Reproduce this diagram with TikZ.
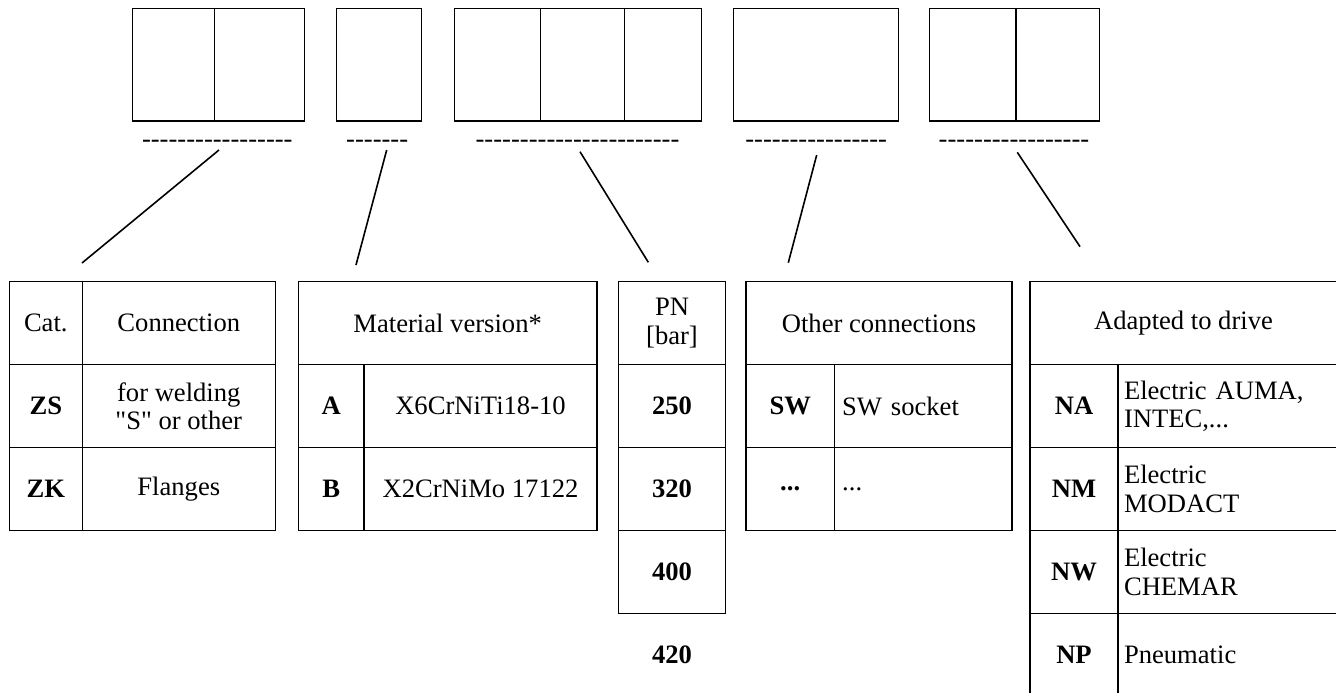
\documentclass[tikz,border=0pt]{standalone}
\usepackage{fontspec}
\newfontfamily\plainserif{Liberation Serif}
\usetikzlibrary{positioning}

\newcommand{\dashrow}[1]{\foreach \k in {1,...,#1}{-\kern0pt}}

\begin{document}
\begin{tikzpicture}[
    x=1pt, y=-1pt,
    every node/.style={font=\plainserif\fontsize{26.6}{28.3}\selectfont},
    slot/.style={draw, line width=1.3pt, minimum height=112.7pt, inner sep=0pt},
    cell/.style={draw, line width=1.3pt, minimum height=83pt, inner sep=0pt, align=center},
    key/.style={cell, font=\plainserif\fontsize{26.6}{28.3}\selectfont\bfseries},
    desc/.style={cell, align=left, text width=#1},
    hyph/.style={inner sep=0pt},
    link/.style={line width=1.6pt},
]
    \useasboundingbox (0,0) rectangle (1336,693);

    % code boxes
    \node[slot, minimum width=82pt] (b1a) at (173.3,64.65) {};
    \node[slot, minimum width=90pt] (b1b) at (259.3,64.65) {};
    \node[slot, minimum width=85.4pt] (b2) at (379,64.65) {};
    \node[slot, minimum width=86pt] (b3a) at (497.3,64.65) {};
    \node[slot, minimum width=84pt] (b3b) at (582.3,64.65) {};
    \node[slot, minimum width=77.4pt] (b3c) at (663,64.65) {};
    \node[slot, minimum width=165.4pt] (b4) at (816,64.65) {};
    \node[slot, minimum width=86.7pt] (b5a) at (972.65,64.65) {};
    \node[slot, minimum width=83.3pt] (b5b) at (1057.65,64.65) {};

    % dashes under the boxes
    \node[hyph] (d1) at (217.3,144.3) {\dashrow{17}};
    \node[hyph] (d2) at (377.2,144.3) {\dashrow{7}};
    \node[hyph] (d3) at (577.5,144.3) {\dashrow{23}};
    \node[hyph] (d4) at (816.2,144.3) {\dashrow{16}};
    \node[hyph] (d5) at (1014,144.3) {\dashrow{17}};

    % connection
    \node[cell, minimum width=73pt] (cat) at (45.8,323) {Cat.};
    \node[cell, minimum width=193pt] (conn) at (178.8,323) {Connection};
    \node[key, minimum width=73pt] (zs) at (45.8,406) {ZS};
    \node[cell, minimum width=193pt] (zsd) at (178.8,406) {for welding\\"S" or other};
    \node[key, minimum width=73pt] (zk) at (45.8,489) {ZK};
    \node[cell, minimum width=193pt] (zkd) at (178.8,489) {Flanges};

    % material
    \node[cell, minimum width=298.5pt] (mat) at (447.65,323) {Material version*};
    \node[key, minimum width=65.7pt] (ma) at (331.25,406) {A};
    \node[cell, minimum width=232.8pt] (mad) at (480.5,406) {X6CrNiTi18-10};
    \node[key, minimum width=65.7pt] (mb) at (331.25,489) {B};
    \node[cell, minimum width=232.8pt] (mbd) at (480.5,489) {X2CrNiMo 17122};

    % pressure
    \node[cell, minimum width=106.5pt] (pn) at (672,323) {PN\\{[bar]}};
    \node[key, minimum width=106.5pt] (p250) at (672,406) {250};
    \node[key, minimum width=106.5pt] (p320) at (672,489) {320};
    \node[key, minimum width=106.5pt] (p400) at (672,572) {400};
    \node[key, draw=none, minimum width=106.5pt] (p420) at (672,655) {420};

    % other connections
    \node[cell, minimum width=266pt] (oth) at (879,323) {Other connections};
    \node[key, minimum width=88.4pt] (sw) at (790.2,406) {SW};
    \node[desc=162pt, minimum width=177.6pt] (swd) at (923.2,406) {SW socket};
    \node[key, minimum width=88.4pt] (etc) at (790.2,489) {...};
    \node[desc=162pt, minimum width=177.6pt] (etcd) at (923.2,489) {...};

    % drive
    \node[cell, minimum width=307pt] (drv) at (1183.5,323) {Adapted to drive};
    \node[key, minimum width=88pt] (na) at (1074,406) {NA};
    \node[desc=207pt, minimum width=219pt] (nad) at (1227.5,406) {Electric AUMA,\\INTEC,...};
    \node[key, minimum width=88pt] (nm) at (1074,489) {NM};
    \node[desc=207pt, minimum width=219pt] (nmd) at (1227.5,489) {Electric\\MODACT};
    \node[key, minimum width=88pt] (nw) at (1074,572) {NW};
    \node[desc=207pt, minimum width=219pt] (nwd) at (1227.5,572) {Electric\\CHEMAR};
    \node[key, minimum width=88pt] (np) at (1074,655) {NP};
    \node[desc=207pt, minimum width=219pt] (npd) at (1227.5,655) {Pneumatic};

    % leader lines
    \coordinate (s1) at (219,150);    \coordinate (e1) at (82,263);
    \coordinate (s2) at (386.7,150);  \coordinate (e2) at (356,265);
    \coordinate (s3) at (580,151.7);  \coordinate (e3) at (648.3,262.3);
    \coordinate (s4) at (816.7,155);  \coordinate (e4) at (788.3,262.7);
    \coordinate (s5) at (1017.3,152.3); \coordinate (e5) at (1080,246.7);
    \foreach \i in {1,...,5}
        \draw[link] (s\i) -- (e\i);
\end{tikzpicture}
\end{document}
